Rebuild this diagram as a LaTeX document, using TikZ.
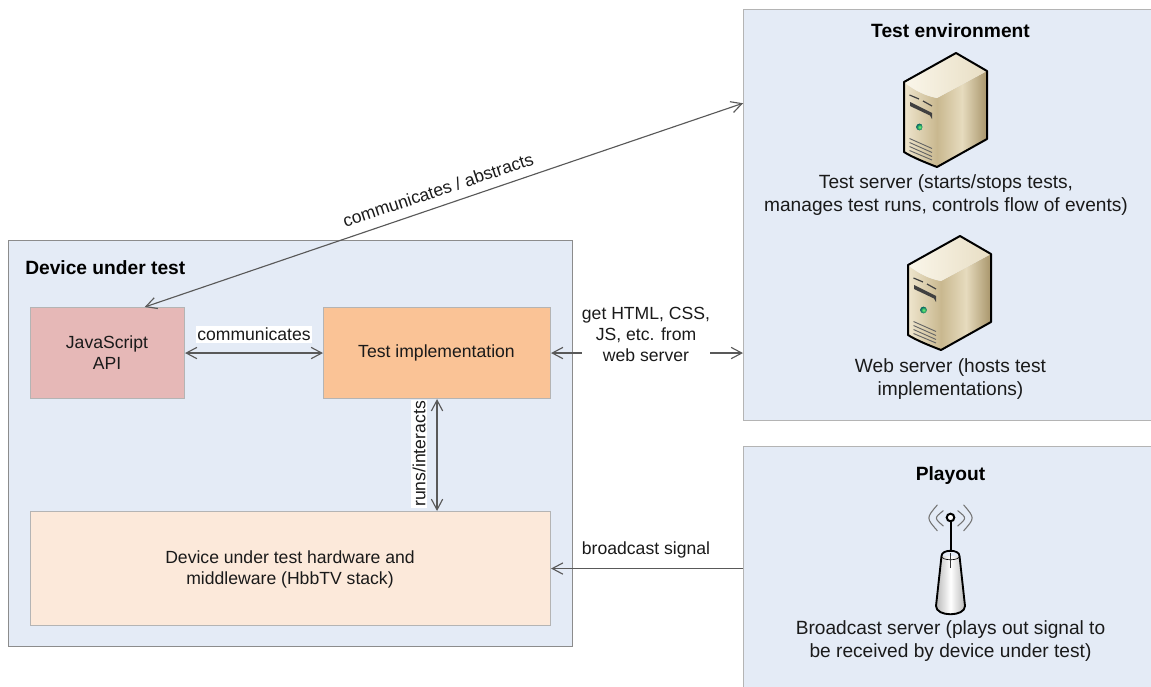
\documentclass[tikz,border=0pt]{standalone}
\usepackage{fontspec}
\setmainfont{Liberation Sans}
\usetikzlibrary{arrows.meta,calc}
\definecolor{panelblue}{HTML}{E4EBF6}
\definecolor{panelline}{HTML}{B4B4B4}
\definecolor{dutline}{HTML}{8C8C8C}
\definecolor{redbox}{HTML}{E6B8B7}
\definecolor{orangebox}{HTML}{FAC396}
\definecolor{peachbox}{HTML}{FCE9DA}
\definecolor{txt}{HTML}{1A1A1A}
\definecolor{conn}{HTML}{595959}
\definecolor{srvtop}{HTML}{FAF6EA}
\definecolor{srvtopb}{HTML}{E8DEC4}
\definecolor{srvfront}{HTML}{EFE6CE}
\definecolor{srvfrontb}{HTML}{C9B88F}
\definecolor{srvside}{HTML}{A8956A}
\definecolor{srvmid}{HTML}{E6DBBE}
\tikzset{
  lbl/.style={font=\fontsize{13.2}{15.8}\selectfont,text=txt,align=center,inner sep=0pt},
  big/.style={lbl,font=\fontsize{14.35}{17.25}\selectfont},
  ttl/.style={font=\fontsize{14.4}{17}\selectfont\bfseries,text=black,inner sep=0pt},
  panel/.style={draw=panelline,fill=panelblue,line width=0.8pt,inner sep=0pt,anchor=north west},
  comp/.style={draw=panelline,line width=0.8pt,inner sep=0pt,anchor=north west},
  wlbl/.style={lbl,fill=white,inner xsep=1pt,inner ysep=1.5pt},
  link/.style={draw=conn,line width=0.85pt},
  bi/.style={link,{Straight Barb[length=8pt,width=8.5pt]}-{Straight Barb[length=8pt,width=8.5pt]}},
  uni/.style={link,-{Straight Barb[length=8pt,width=8.5pt]}},
  server/.pic={
    \shade[left color=srvfront,right color=srvfrontb] (904,82) .. controls (915,91) and (926,96) .. (937,98) -- (937,167) .. controls (924,162) and (912,157) .. (904,152) -- cycle;
    \shade[left color=srvfrontb,right color=srvside,middle color=srvmid] (937,98) -- (987,71) -- (987,139) -- (937,167) -- cycle;
    \shade[left color=srvtop,right color=srvtopb] (904,82) -- (956,53) -- (987,71) -- (937,98) .. controls (926,96) and (915,91) .. (904,82) -- cycle;
    \draw[black,line width=1.5pt,line join=round] (904,82) -- (956,53) -- (987,71) -- (987,139) -- (937,167) .. controls (924,162) and (912,157) .. (904,152) -- cycle;
    \draw[black!75,line width=0.9pt] (909.5,95) -- (919,99) (923,101) -- (932,106);
    \fill[black!75] (910,102) -- (932,113) -- (932,119) -- (930,115.5) -- (910,106) -- cycle;
    \shade[inner color=green!55!white,outer color=teal!75!black] (919.5,127) circle (3.4);
    \draw[black!60,line width=0.7pt] (909.5,138.5) -- (932,148.5) (909.5,142.5) -- (932,152.5) (909.5,146.5) -- (932,156.5) (909.5,150.5) -- (932,160);
  }
}
\begin{document}
\begin{tikzpicture}[x=0.75pt,y=-0.75pt]
\useasboundingbox (0,0) rectangle (1151,686);
% panels
\node[panel,minimum width=309pt,minimum height=308.25pt] (env) at (743,9) {};
\node[panel,minimum width=309pt,minimum height=184pt] (play) at (743,446) {};
\node[panel,draw=dutline,minimum width=423pt,minimum height=304.5pt] (dut) at (8,240) {};
% components
\node[comp,fill=redbox,minimum width=115.5pt,minimum height=68.25pt] (api) at (30,307) {};
\node[comp,fill=orangebox,minimum width=170.25pt,minimum height=68.25pt] (impl) at (323,307) {};
\node[comp,fill=peachbox,minimum width=390pt,minimum height=85.5pt] (hw) at (30,511) {};
\node[lbl] (apit) at (107,353) {JavaScript\\API};
\node[lbl] (implt) at (436.5,353) {Test implementation};
\node[lbl] (hwt) at (290,569) {Device under test hardware and\\middleware (HbbTV stack)};
\node[ttl,anchor=west] (dutt) at (25,268) {Device under test};
\node[ttl] (envt) at (950.5,31) {Test environment};
\node[ttl] (playt) at (950.5,476) {Playout};
% connectors
\draw[bi] ($(api.north west)!0.74!(api.north east)$) -- ($(env.north west)!0.2287!(env.south west)$);
\draw[bi] (api.east) -- (impl.west);
\draw[bi] (impl.south) -- (impl.south |- hw.north);
\draw[bi] (impl.east) -- (env.west |- impl.east);
\draw[uni] (play.west |- hw.east) -- (hw.east);
% connector labels
\node[lbl,rotate=18.4] (l1) at (438,190) {communicates / abstracts};
\node[wlbl] (l2) at (254,334.5) {communicates};
\node[wlbl,rotate=90] (l3) at (419,454) {runs/interacts};
\node[wlbl,inner xsep=0pt] (l4) at (646,334.5) {get HTML, CSS,\\JS, etc. from\\web server};
\node[lbl] (l5) at (646,549.5) {broadcast signal};
% servers
\pic at (0,0) {server};
\pic at (4,183) {server};
\node[big] (envs1) at (946,195.5) {Test server (starts/stops tests,\\manages test runs, controls flow of events)};
\node[big] (envs2) at (950.5,379) {Web server (hosts test\\implementations)};
% antenna
\draw[gray!90!black,line width=0.8pt,line cap=round]
  (943.3,510.7) .. controls (934.1,518) .. (943.3,526)
  (957.7,510.7) .. controls (966.9,518) .. (957.7,526)
  (937.3,505) .. controls (926.1,518) .. (937.3,530.7)
  (963.7,505) .. controls (974.9,518) .. (963.7,530.7);
\shade[left color=gray!55,right color=gray!55,middle color=white] (941.5,556) -- (959.5,556) -- (965,606) .. controls (965,617) and (936,617) .. (936,606) -- cycle;
\draw[black,line width=1.4pt,line join=round] (941.5,556) .. controls (941.5,549) and (959.5,549) .. (959.5,556) -- (965,606) .. controls (965,617) and (936,617) .. (936,606) -- cycle;
\draw[black,line width=0.5pt] (941.5,556) .. controls (941.5,561) and (959.5,561) .. (959.5,556);
\draw[black!80,line width=0.5pt] (950.5,553) -- (950.5,568);
\draw[black,line width=1.5pt] (950.5,522) -- (950.5,552);
\draw[black,fill=white,line width=1.5pt] (950.5,517.5) circle (3.8);
\node[big] (plays) at (950.5,641.5) {Broadcast server (plays out signal to\\be received by device under test)};
\end{tikzpicture}
\end{document}
